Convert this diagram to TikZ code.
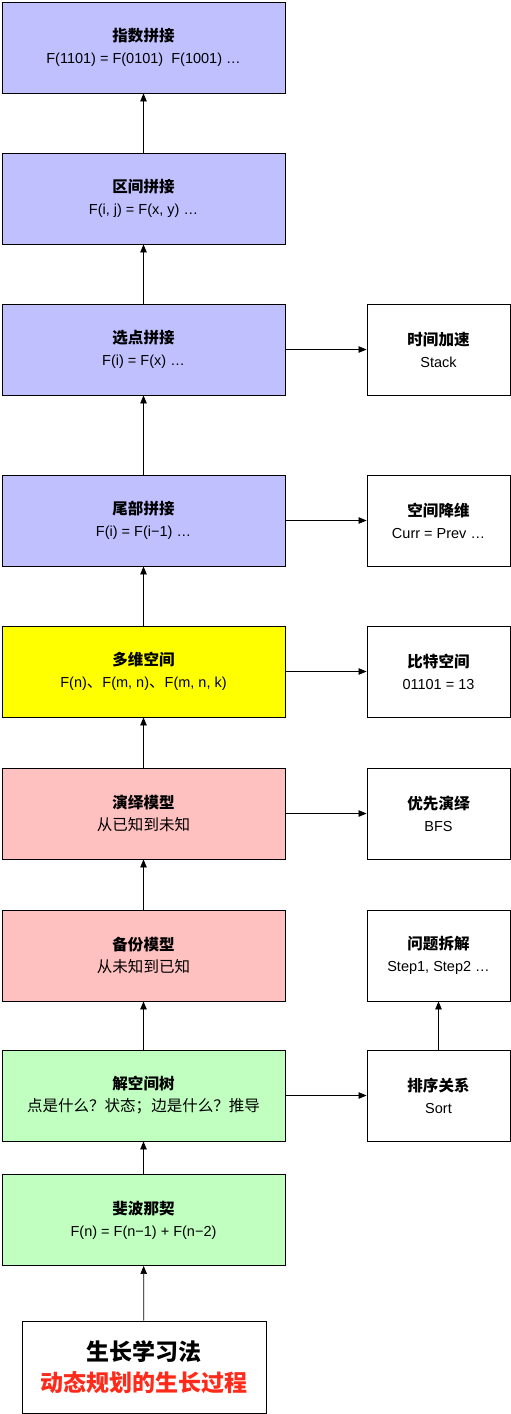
\documentclass[tikz,border=0pt]{standalone}
\usepackage{fontspec}
\setmainfont{Liberation Sans}
\newfontfamily\cjk[Scale=1.07]{Noto Sans CJK SC}
\usetikzlibrary{arrows.meta}
\definecolor{cblue}{HTML}{C0C0FF}
\definecolor{cpink}{HTML}{FFC0C0}
\definecolor{cgreen}{HTML}{C0FFC0}
\definecolor{cyel}{HTML}{FFFF00}
\definecolor{cred}{HTML}{FF2A1A}
\begin{document}
\begin{tikzpicture}[x=1pt,y=-1pt,
  box/.style={draw, line width=0.9pt, minimum width=283pt, minimum height=91pt, align=center, inner sep=0pt, font=\fontsize{14.5}{22}\selectfont},
  sbox/.style={box, minimum width=143pt, fill=white},
  arr/.style={-{Triangle[length=8pt,width=6.5pt]}, line width=0.7pt}]
\useasboundingbox (0,0) rectangle (511,1414);
\fill[white] (0,0) rectangle (511,1414);
\node[box, fill=cblue] (a1) at (143.5,47.5) {{\cjk\bfseries 指数拼接}\\F(1101) = F(0101)\ \ F(1001) …};
\node[box, fill=cblue] (a2) at (143.5,198.5) {{\cjk\bfseries 区间拼接}\\F(i, j) = F(x, y) …};
\node[box, fill=cblue] (a3) at (143.5,349.5) {{\cjk\bfseries 选点拼接}\\F(i) = F(x) …};
\node[box, fill=cblue] (a4) at (143.5,520.5) {{\cjk\bfseries 尾部拼接}\\F(i) = F(i−1) …};
\node[box, fill=cyel] (a5) at (143.5,671.5) {{\cjk\bfseries 多维空间}\\F(n){\cjk 、}F(m, n){\cjk 、}F(m, n, k)};
\node[box, fill=cpink] (a6) at (143.5,813.5) {{\cjk\bfseries 演绎模型}\\{\cjk 从已知到未知}};
\node[box, fill=cpink] (a7) at (143.5,955.5) {{\cjk\bfseries 备份模型}\\{\cjk 从未知到已知}};
\node[box, fill=cgreen] (a8) at (143.5,1095.5) {{\cjk\bfseries 解空间树}\\{\cjk 点是什么？状态；边是什么？推导}};
\node[box, fill=cgreen] (a9) at (143.5,1220) {{\cjk\bfseries 斐波那契}\\F(n) = F(n−1) + F(n−2)};
\node[box, fill=white, minimum width=244pt, minimum height=92pt, font=\fontsize{21.5}{31}\selectfont] (b0) at (144,1367) {{\cjk\bfseries 生长学习法}\\{\cjk\bfseries\color{cred} 动态规划的生长过程}};
\node[sbox] (r3) at (438.5,349.5) {{\cjk\bfseries 时间加速}\\Stack};
\node[sbox] (r4) at (438.5,520.5) {{\cjk\bfseries 空间降维}\\Curr = Prev …};
\node[sbox] (r5) at (438.5,671.5) {{\cjk\bfseries 比特空间}\\01101 = 13};
\node[sbox] (r6) at (438.5,813.5) {{\cjk\bfseries 优先演绎}\\BFS};
\node[sbox] (r7) at (438.5,955.5) {{\cjk\bfseries 问题拆解}\\Step1, Step2 …};
\node[sbox] (r8) at (438.5,1095.5) {{\cjk\bfseries 排序关系}\\Sort};
\draw[arr] (b0) -- (a9);
\draw[arr] (a9) -- (a8);
\draw[arr] (a8) -- (a7);
\draw[arr] (a7) -- (a6);
\draw[arr] (a6) -- (a5);
\draw[arr] (a5) -- (a4);
\draw[arr] (a4) -- (a3);
\draw[arr] (a3) -- (a2);
\draw[arr] (a2) -- (a1);
\draw[arr] (a3) -- (r3);
\draw[arr] (a4) -- (r4);
\draw[arr] (a5) -- (r5);
\draw[arr] (a6) -- (r6);
\draw[arr] (a8) -- (r8);
\draw[arr] (r8) -- (r7);
\end{tikzpicture}
\end{document}
